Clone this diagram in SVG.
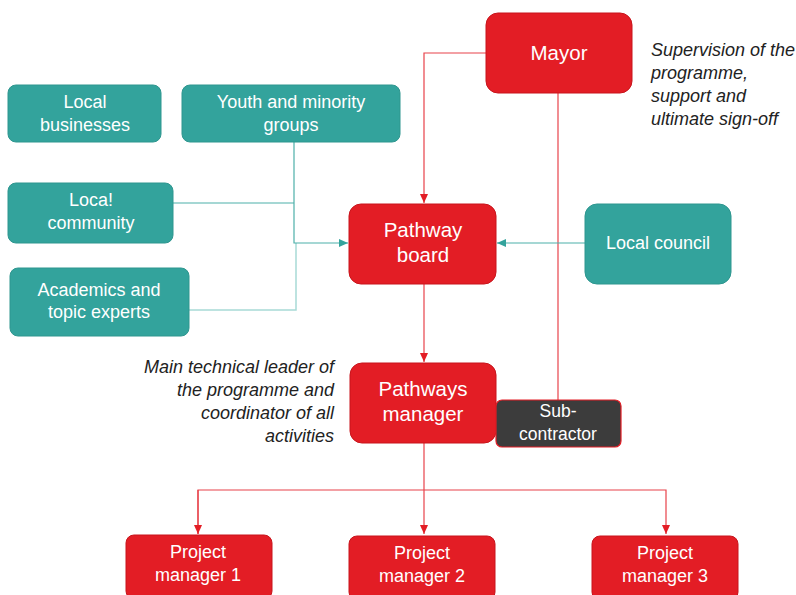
<svg xmlns="http://www.w3.org/2000/svg" width="796" height="595" viewBox="0 0 796 595">
<style>
.red{fill:#E31D25;stroke:#C8151C;stroke-width:1}
.teal{fill:#33A39C;stroke:#2E968F;stroke-width:1}
.dark{fill:#3C3C3C;stroke:#E31D25;stroke-width:1.2}
.t{font-family:"Liberation Sans",Arial,sans-serif;fill:#fff;text-anchor:middle}
.big{font-size:20.5px}
.mid{font-size:18px}
.pm{font-size:18px}
.note{font-family:"Liberation Sans",Arial,sans-serif;font-style:italic;font-size:18px;fill:#222}
.rl{fill:none;stroke:#E8424A;stroke-width:1.2}
.tl{fill:none;stroke:#4DB0A9;stroke-width:1.2}
.tl2{fill:none;stroke:#A8DAD6;stroke-width:1.5}
</style>
<defs>
<marker id="ar" markerWidth="10" markerHeight="10" refX="9" refY="5" orient="auto" markerUnits="userSpaceOnUse"><path d="M0,1 L9,5 L0,9 Z" fill="#E31D25"/></marker>
<marker id="at" markerWidth="10" markerHeight="10" refX="9" refY="5" orient="auto" markerUnits="userSpaceOnUse"><path d="M0,1 L9,5 L0,9 Z" fill="#33A39C"/></marker>
</defs>
<rect width="796" height="595" fill="#fff"/>
<g id="connectors">
<path class="rl" d="M486,53 H424 V203" marker-end="url(#ar)"/>
<path class="rl" d="M558,93 V400"/>
<path class="rl" d="M424,284 V362" marker-end="url(#ar)"/>
<path class="rl" d="M424,443 V534" marker-end="url(#ar)"/>
<path class="rl" d="M198,534 V490 H666 V534" marker-end="url(#ar)"/>
<path class="rl" d="M198,490 V534" marker-end="url(#ar)"/>
<path class="tl" d="M585,243 H497" marker-end="url(#at)"/>
<path class="tl2" d="M189,310 H296 V243"/>
<path class="tl" d="M173,203 H294"/>
<path class="tl" d="M294,142 V243 H348" marker-end="url(#at)"/>
</g>
<g id="mayor"><rect class="red" x="486" y="13" width="146" height="80" rx="12"/><text class="t big" x="559" y="60">Mayor</text></g>
<g id="pathway-board"><rect class="red" x="349" y="204" width="147" height="80" rx="12"/><text class="t big" x="423" y="237">Pathway</text><text class="t big" x="423" y="262">board</text></g>
<g id="pathways-manager"><rect class="red" x="350" y="363" width="146" height="80" rx="12"/><text class="t big" x="423" y="396">Pathways</text><text class="t big" x="423" y="421">manager</text></g>
<g id="sub-contractor"><rect class="dark" x="496" y="400" width="125" height="47" rx="6"/><text class="t" font-size="17.5" x="558" y="417">Sub-</text><text class="t" font-size="17.5" x="558" y="440">contractor</text></g>
<g id="local-council"><rect class="teal" x="585" y="204" width="146" height="80" rx="12"/><text class="t mid" x="658" y="249">Local council</text></g>
<g id="local-businesses"><rect class="teal" x="8" y="85" width="153" height="57" rx="8"/><text class="t mid" x="85" y="108">Local</text><text class="t mid" x="85" y="131">businesses</text></g>
<g id="youth"><rect class="teal" x="182" y="85" width="218" height="57" rx="8"/><text class="t mid" x="291" y="108">Youth and minority</text><text class="t mid" x="291" y="131">groups</text></g>
<g id="local-community"><rect class="teal" x="8" y="183" width="165" height="60" rx="8"/><text class="t mid" x="91" y="206">Loca!</text><text class="t mid" x="91" y="229">community</text></g>
<g id="academics"><rect class="teal" x="10" y="268" width="179" height="68" rx="8"/><text class="t mid" x="99" y="296">Academics and</text><text class="t mid" x="99" y="318">topic experts</text></g>
<g id="pm1"><rect class="red" x="126" y="535" width="146" height="64" rx="8"/><text class="t pm" x="198" y="558">Project</text><text class="t pm" x="198" y="581">manager 1</text></g>
<g id="pm2"><rect class="red" x="349" y="536" width="146" height="64" rx="8"/><text class="t pm" x="422" y="559">Project</text><text class="t pm" x="422" y="582">manager 2</text></g>
<g id="pm3"><rect class="red" x="592" y="536" width="146" height="64" rx="8"/><text class="t pm" x="665" y="559">Project</text><text class="t pm" x="665" y="582">manager 3</text></g>
<g id="notes">
<text class="note" x="651" y="56">Supervision of the</text>
<text class="note" x="651" y="79">programme,</text>
<text class="note" x="651" y="102">support and</text>
<text class="note" x="651" y="125">ultimate sign-off</text>
<text class="note" x="334" y="373" text-anchor="end">Main technical leader of</text>
<text class="note" x="334" y="396" text-anchor="end">the programme and</text>
<text class="note" x="334" y="419" text-anchor="end">coordinator of all</text>
<text class="note" x="334" y="442" text-anchor="end">activities</text>
</g>
</svg>
